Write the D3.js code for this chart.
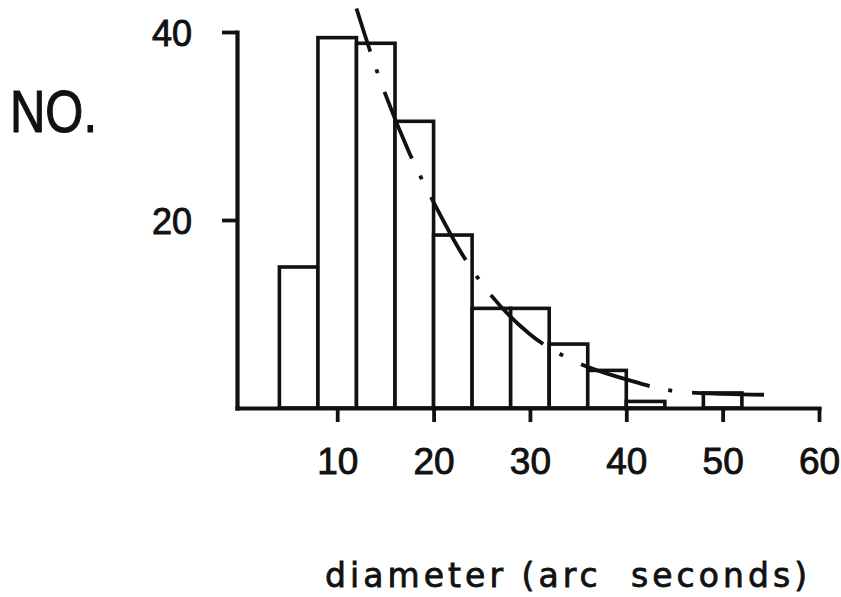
<!DOCTYPE html>
<html>
<head>
<meta charset="utf-8">
<script src="https://cdn.jsdelivr.net/npm/d3@7"></script>
<style>
  html, body { margin: 0; padding: 0; background: #fff; }
  svg { display: block; }
</style>
</head>
<body>
<div id="chart"></div>
<script>
// ---- data ----
const binStarts = [4, 8, 12, 16, 20, 24, 28, 32, 36, 40, 44, 48, 52];
const binWidth = 4;
const counts = [15, 39.4, 38.8, 30.5, 18.4, 10.6, 10.6, 6.8, 4.0, 0.7, 0, 1.6, 0];
const fitX = [12, 14, 17.5, 20, 23, 26, 30, 35, 40, 45, 50, 55];
const fitY = [42.5, 36.2, 27.1, 21.9, 16.3, 11.95, 7.85, 4.8, 3.05, 1.8, 1.5, 1.4];
const xTicks = [10, 20, 30, 40, 50, 60];
const yTicks = [20, 40];
const yLabel = "NO.";
const xLabel = "diameter (arc  seconds)";

const W = 841, H = 597;
const ink = "#111";

const svg = d3.select("#chart").append("svg")
  .attr("width", W).attr("height", H)
  .style("background", "#fff");

const x = d3.scaleLinear().domain([-0.4, 60]).range([237, 819]);
const y = d3.scaleLinear().domain([0, 40]).range([408, 32]);

const font = "'Liberation Sans', Arial, sans-serif";
const titleFont = "'DejaVu Sans', 'Liberation Sans', sans-serif";

// bars
const bars = binStarts.map((s, i) => ({ x0: s, x1: s + binWidth, v: counts[i] }))
  .filter(d => d.v > 0);
svg.append("g").selectAll("rect").data(bars).join("rect")
  .attr("x", d => x(d.x0))
  .attr("y", d => y(d.v))
  .attr("width", d => x(d.x1) - x(d.x0))
  .attr("height", d => y(0) - y(d.v))
  .attr("fill", "#fff")
  .attr("stroke", ink)
  .attr("stroke-width", 3.6);

// fitted curve (dash-dot)
const line = d3.line().x((d, i) => x(fitX[i])).y((d, i) => y(fitY[i]))
  .curve(d3.curveMonotoneX);
svg.append("path")
  .attr("d", line(fitX))
  .attr("fill", "none")
  .attr("stroke", ink)
  .attr("stroke-width", 3.8)
  .attr("stroke-dasharray", "72 19 4 20")
  .attr("stroke-dashoffset", 27);

// axes
const xAxis = svg.append("g")
  .attr("transform", `translate(0,${y(0)})`)
  .call(d3.axisBottom(x).tickValues(xTicks).tickSize(14).tickSizeOuter(0).tickPadding(26));
const yAxis = svg.append("g")
  .attr("transform", `translate(${x(-0.4)},0)`)
  .call(d3.axisLeft(y).tickValues(yTicks).tickSize(15).tickSizeOuter(0).tickPadding(30));

[xAxis, yAxis].forEach(g => {
  g.select(".domain").attr("stroke", ink).attr("stroke-width", 4.2).attr("stroke-linecap", "square");
  g.selectAll(".tick line").attr("stroke", ink).attr("stroke-width", 3.8);
  g.selectAll(".tick text").attr("fill", ink).attr("stroke", ink).attr("stroke-width", 0.9)
    .style("font-family", font);
});
xAxis.selectAll(".tick text").style("font-size", "37px");
yAxis.selectAll(".tick text").style("font-size", "36px").attr("dy", "0.38em");

// axis titles
svg.append("text")
  .attr("x", 10).attr("y", 132)
  .attr("textLength", 87).attr("lengthAdjust", "spacingAndGlyphs")
  .style("font-family", font).style("font-size", "60px")
  .attr("fill", ink).attr("stroke", ink).attr("stroke-width", 1.2)
  .text(yLabel);

svg.append("text")
  .attr("x", 325).attr("y", 587)
  .attr("textLength", 482).attr("lengthAdjust", "spacing")
  .style("font-family", titleFont).style("font-size", "33px")
  .style("white-space", "pre")
  .attr("xml:space", "preserve")
  .attr("fill", ink).attr("stroke", ink).attr("stroke-width", 0.8)
  .text(xLabel);
</script>
</body>
</html>
